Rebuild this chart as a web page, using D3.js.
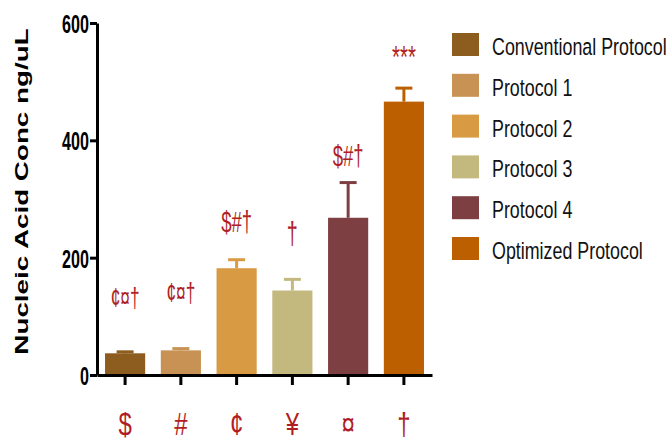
<!DOCTYPE html>
<html>
<head>
<meta charset="utf-8">
<script src="https://cdn.jsdelivr.net/npm/d3@7"></script>
<style>
  html, body { margin: 0; padding: 0; background: #fff; }
  svg { display: block; }
  text { font-family: "Liberation Sans", Arial, sans-serif; }
</style>
</head>
<body>
<svg id="chart" width="666" height="441"></svg>
<script>
// Protocol groups and their marker symbols on the category axis
const protocols = ["Conventional Protocol", "Protocol 1", "Protocol 2", "Protocol 3", "Protocol 4", "Optimized Protocol"];
const symbols = ["$", "#", "¢", "¥", "¤", "†"];
// Mean nucleic acid concentration (ng/uL) and upper error (SEM)
const means = [37, 42, 182, 144, 268, 466];
const errors = [2.5, 3, 14.5, 19, 60, 23];
// Significance marks printed above each bar, and the level (ng/uL) they sit at
const sigMarks = ["¢¤†", "¢¤†", "$#†", "†", "$#†", "***"];
const sigLevels = [116, 124, 244, 224, 357, 524];
const yTicks = [0, 200, 400, 600];

// Styling
const colors = ["#8d5d1f", "#c79253", "#d99a44", "#c3b97f", "#7d3f41", "#bb5f00"];
const markFontSizes = [27, 27, 29, 31, 29, 32];
const red = "#b01e23";

const svg = d3.select("#chart");

const x = d3.scaleBand()
  .domain(protocols)
  .range([97, 432])
  .paddingInner(0.28)
  .paddingOuter(0.144);

const y = d3.scaleLinear().domain([0, 600]).range([375, 23]);
const color = d3.scaleOrdinal().domain(protocols).range(colors);

const rows = protocols.map((p, i) => ({
  name: p, sym: symbols[i], mean: means[i], err: errors[i],
  mark: sigMarks[i], level: sigLevels[i], fs: markFontSizes[i]
}));

// Bars
svg.append("g").selectAll("rect")
  .data(rows).join("rect")
  .attr("x", d => x(d.name))
  .attr("y", d => y(d.mean))
  .attr("width", x.bandwidth())
  .attr("height", d => y(0) - y(d.mean))
  .attr("fill", d => color(d.name));

// Upper error bars
const eb = svg.append("g").selectAll("g").data(rows).join("g")
  .attr("stroke", d => color(d.name))
  .attr("stroke-width", 3);
eb.append("line")
  .attr("x1", d => x(d.name) + x.bandwidth() / 2)
  .attr("x2", d => x(d.name) + x.bandwidth() / 2)
  .attr("y1", d => y(d.mean))
  .attr("y2", d => y(d.mean + d.err));
eb.append("line")
  .attr("x1", d => x(d.name) + x.bandwidth() / 2 - 8.5)
  .attr("x2", d => x(d.name) + x.bandwidth() / 2 + 8.5)
  .attr("y1", d => y(d.mean + d.err))
  .attr("y2", d => y(d.mean + d.err));

// Significance marks
svg.append("g").selectAll("text").data(rows).join("text")
  .attr("transform", d => `translate(${x(d.name) + x.bandwidth() / 2},${y(d.level)}) scale(0.64,1)`)
  .attr("text-anchor", "middle")
  .attr("font-size", d => d.fs)
  .attr("fill", red)
  .text(d => d.mark);

// Y axis
const yAxis = svg.append("g")
  .attr("transform", "translate(97,0)")
  .call(d3.axisLeft(y).tickValues(yTicks).tickSize(7).tickSizeOuter(0).tickPadding(0));
yAxis.select(".domain").attr("stroke", "#000").attr("stroke-width", 3);
yAxis.selectAll(".tick line").attr("stroke", "#000").attr("stroke-width", 3);
yAxis.selectAll(".tick text")
  .attr("font-family", "'Liberation Sans', Arial, sans-serif")
  .attr("font-size", 26)
  .attr("font-weight", "bold")
  .attr("fill", "#000")
  .attr("x", -8 / 0.62)
  .attr("dy", "0.36em")
  .attr("transform", "scale(0.62,1)");

// X axis with symbol labels
const xAxis = svg.append("g")
  .attr("transform", "translate(0,375)")
  .call(d3.axisBottom(x).tickSize(10).tickSizeOuter(0).tickFormat((d, i) => symbols[i]));
xAxis.select(".domain").attr("stroke", "#000").attr("stroke-width", 3);
xAxis.selectAll(".tick line").attr("stroke", "#000").attr("stroke-width", 3);
xAxis.selectAll(".tick text")
  .attr("font-family", "'Liberation Sans', Arial, sans-serif")
  .attr("font-size", 32)
  .attr("fill", red)
  .attr("y", 60)
  .attr("dy", 0)
  .attr("transform", "scale(0.75,1)");

// Y axis title
svg.append("text")
  .attr("transform", "translate(28,191.5) rotate(-90) scale(1,0.65)")
  .attr("text-anchor", "middle")
  .attr("font-size", 27.8)
  .attr("font-weight", "bold")
  .attr("fill", "#000")
  .text("Nucleic Acid Conc ng/uL");

// Legend
const legend = svg.append("g").selectAll("g").data(rows).join("g")
  .attr("transform", (d, i) => `translate(452,${33 + i * 40.8})`);
legend.append("rect")
  .attr("width", 27).attr("height", 23)
  .attr("fill", d => color(d.name));
legend.append("text")
  .attr("transform", "translate(40,22) scale(0.76,1)")
  .attr("font-size", 23.5)
  .attr("fill", "#111")
  .text(d => d.name);
</script>
</body>
</html>
